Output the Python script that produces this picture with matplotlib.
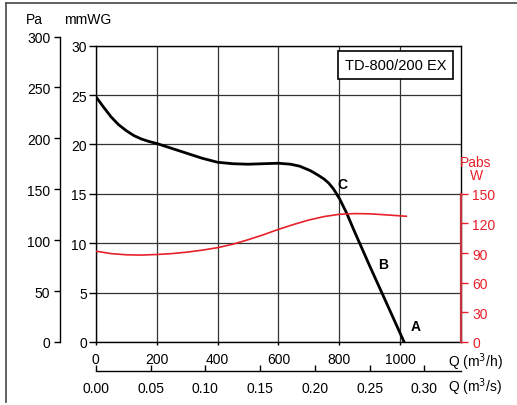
import matplotlib
matplotlib.use("Agg")
import matplotlib.pyplot as plt
from matplotlib.lines import Line2D

plt.rcParams['font.family'] = ['Liberation Sans', 'DejaVu Sans']

# fan curve (Q in m3/h, static pressure in mmWG)
q_pressure = [0, 25, 50, 75, 100, 125, 150, 175, 200, 250, 300, 350, 400, 450,
              500, 550, 600, 640, 670, 705, 730, 750, 765, 781, 801, 825, 847,
              900, 950, 1013]
p_mmwg = [24.85, 23.8, 22.8, 22.0, 21.4, 20.9, 20.55, 20.3, 20.1, 19.6, 19.1,
          18.6, 18.2, 18.05, 18.0, 18.05, 18.1, 18.0, 17.8, 17.35, 16.9, 16.5,
          16.1, 15.5, 14.5, 13.0, 11.4, 7.7, 4.3, 0.0]

# absorbed power curve (W)
q_power = [0, 50, 100, 150, 200, 250, 300, 350, 400, 450, 500, 550, 600,
           650, 700, 750, 800, 850, 900, 950, 1020]
power_w = [92, 89.5, 88.3, 88, 88.6, 89.5, 91, 93, 95.5, 99, 103.5, 108.5,
           114, 119, 123.5, 127, 129.3, 130, 129.8, 128.8, 127.3]

qh_ticks = [0, 200, 400, 600, 800, 1000]
qs_ticks = [0.00, 0.05, 0.10, 0.15, 0.20, 0.25, 0.30]
pa_ticks = [0, 50, 100, 150, 200, 250, 300]
mmwg_ticks = [0, 5, 10, 15, 20, 25, 30]
w_ticks = [0, 30, 60, 90, 120, 150]

RED = '#e8202a'
RED_SPINE = '#c8323c'
W, H = 517, 406

fig = plt.figure(figsize=(W / 100, H / 100), dpi=100)

def fx(px):
    return px / W

def fy(py):
    return (H - py) / H

# main axes (mmWG)
ax = fig.add_axes([fx(95.8), fy(343), fx(461 - 95.8), (343 - 46.7) / H])
ax.set_xlim(0, 1200)
ax.set_ylim(0, 30)
ax.set_yticks(mmwg_ticks)
ax.set_xticks(qh_ticks)
ax.tick_params(axis='y', direction='out', length=5, width=1, pad=1.5, labelsize=10)
ax.tick_params(axis='x', direction='out', length=2, width=1, pad=5, labelsize=10)
ax.grid(True, color='#333333', linewidth=0.9)
ax.set_axisbelow(True)
for s in ax.spines.values():
    s.set_color('black')
    s.set_linewidth(1.0)
ax.plot(q_pressure, p_mmwg, color='black', linewidth=2.0,
        solid_capstyle='round', solid_joinstyle='round', zorder=5)

ax.text(1050, 1.6, 'A', fontsize=10, fontweight='bold', ha='center', va='center')
ax.text(945, 7.9, 'B', fontsize=10, fontweight='bold', ha='center', va='center')
ax.text(810, 16.0, 'C', fontsize=10, fontweight='bold', ha='center', va='center')

ax.text(0.96, 0.935, 'TD-800/200 EX', transform=ax.transAxes, fontsize=10.5,
        ha='right', va='center',
        bbox=dict(boxstyle='square,pad=0.45', facecolor='white', edgecolor='black', linewidth=1.2))

# power axis (right, red)
axw = ax.twinx()
axw.set_ylim(0, 300)
axw.set_yticks(w_ticks)
axw.spines['right'].set_bounds(0, 150)
axw.spines['right'].set_color(RED_SPINE)
axw.spines['right'].set_linewidth(1.6)
for k in ['top', 'left', 'bottom']:
    axw.spines[k].set_visible(False)
axw.tick_params(axis='y', direction='out', length=5, width=1, pad=3,
                labelsize=10, colors=RED)
axw.plot(q_power, power_w, color=RED, linewidth=1.2, zorder=4)
fig.text(fx(476), fy(163), 'Pabs', color=RED, fontsize=10, ha='center', va='center')
fig.text(fx(476), fy(176), 'W', color=RED, fontsize=10, ha='center', va='center')

# Pa axis (far left)
axp = fig.add_axes([fx(60), fy(343), 0.0001, (343 - 37.5) / H])
axp.set_ylim(0, 300)
axp.set_yticks(pa_ticks)
axp.set_xticks([])
for k in ['top', 'right', 'bottom']:
    axp.spines[k].set_visible(False)
axp.spines['left'].set_linewidth(1.0)
axp.tick_params(axis='y', direction='out', length=4.5, width=1, pad=2.5, labelsize=10)
axp.patch.set_visible(False)

fig.text(fx(34), fy(20), 'Pa', fontsize=10, ha='center', va='center')
fig.text(fx(88), fy(20), 'mmWG', fontsize=10, ha='center', va='center')

# m3/s axis (bottom)
axs = fig.add_axes([fx(95.8), fy(372.3), fx(461 - 95.8), 0.0001])
axs.set_xlim(0, 1200 / 3600)
axs.set_xticks(qs_ticks)
axs.set_xticklabels(['%.2f' % v for v in qs_ticks])
axs.set_yticks([])
for k in ['top', 'right', 'left']:
    axs.spines[k].set_visible(False)
axs.spines['bottom'].set_linewidth(1.0)
axs.tick_params(axis='x', direction='in', length=4.5, width=1, pad=7, labelsize=10)
axs.patch.set_visible(False)

fig.text(fx(448), fy(362), 'Q (m$^3$/h)', fontsize=10, ha='left', va='center')
fig.text(fx(448), fy(387), 'Q (m$^3$/s)', fontsize=10, ha='left', va='center')

# frame round the figure (top and left only)
fig.add_artist(Line2D([fx(6), 1], [fy(4.3), fy(4.3)], color='#555555', linewidth=1.3))
fig.add_artist(Line2D([fx(6), fx(6)], [fy(4.3), fy(403)], color='#555555', linewidth=1.3))

fig.savefig('out.png', dpi=100)
